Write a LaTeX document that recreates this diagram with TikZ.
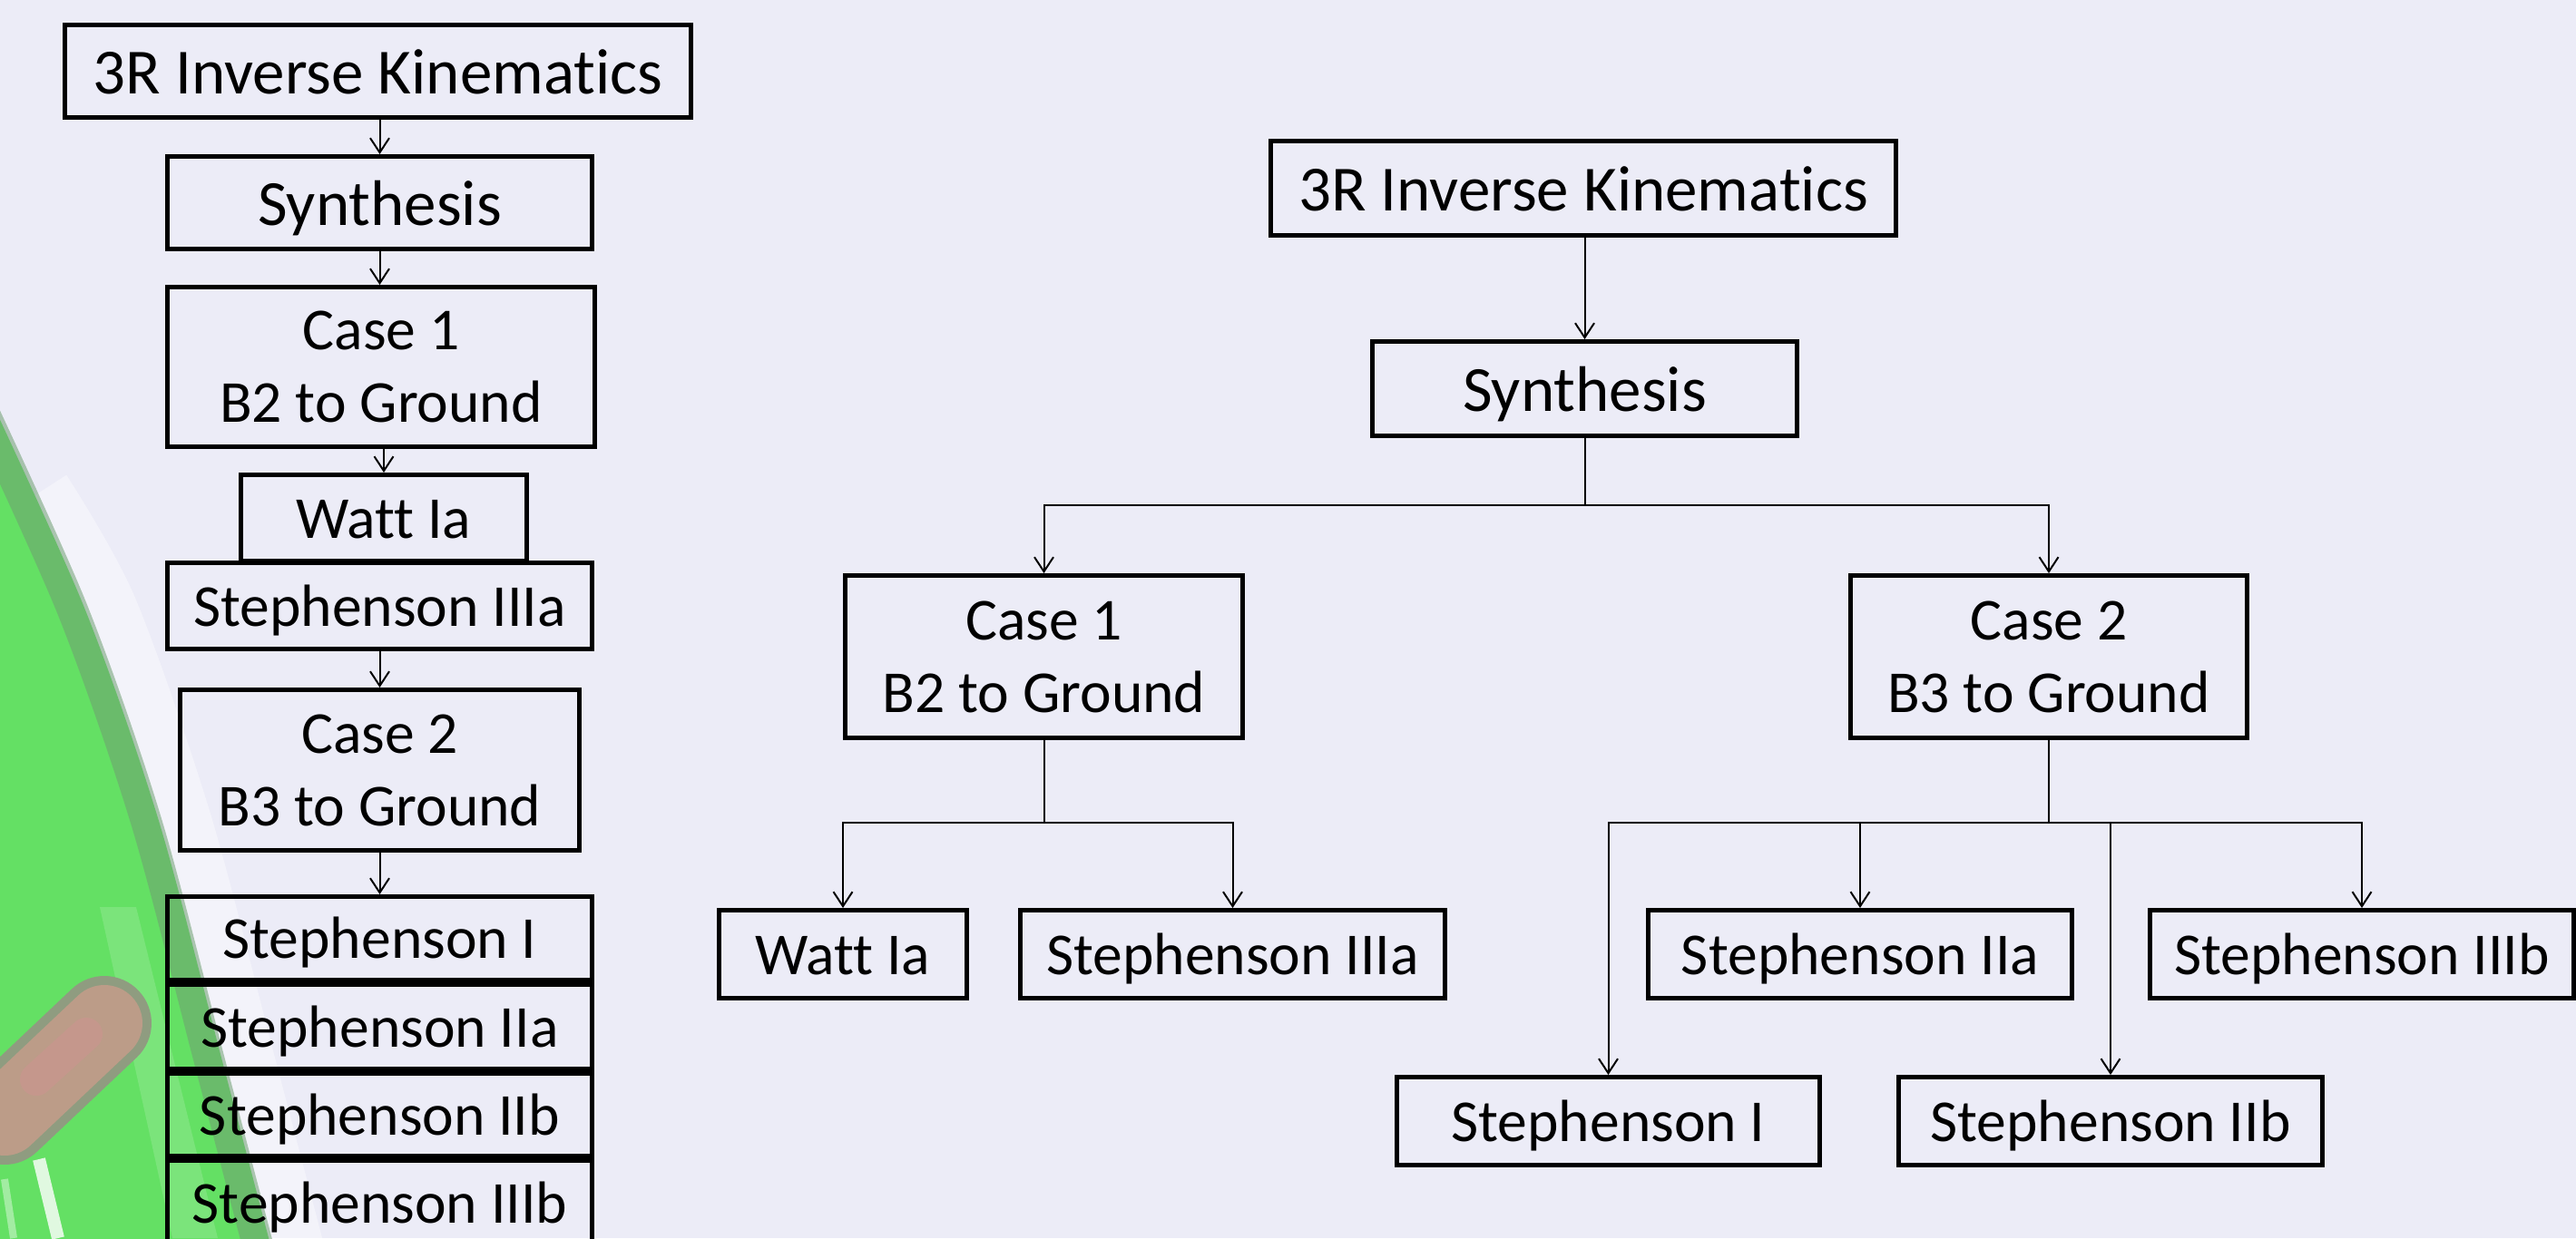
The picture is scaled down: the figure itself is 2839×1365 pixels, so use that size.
\documentclass[tikz,border=0pt]{standalone}
\usepackage{fontspec}
\setmainfont{Carlito}[Ligatures={NoCommon}]
\usetikzlibrary{arrows.meta}
\definecolor{bgc}{HTML}{ECECF7}
\definecolor{grn}{HTML}{64E064}
\definecolor{grnedge}{HTML}{6F9E72}
\definecolor{blobout}{HTML}{8F9C80}
\definecolor{blobin}{HTML}{BC9C88}
\definecolor{blobpink}{HTML}{CC9590}
\newcommand\bigboxfont{\fontsize{71}{87}\selectfont}
\newcommand\smallboxfont{\fontsize{65.6}{80}\selectfont}
\begin{document}
\begin{tikzpicture}[x=1pt,y=-1pt,
  bx/.style={draw=black, line width=5pt, inner sep=0pt, align=center},
  big/.style={bx, font=\bigboxfont, text height=66pt, text depth=17pt},
  one/.style={bx, font=\smallboxfont, text height=61pt, text depth=17pt},
  two/.style={bx, font=\smallboxfont},
  arr/.style={draw=black, line width=2pt, -{Straight Barb[length=16pt,width=21pt]}},
  ln/.style={draw=black, line width=2pt}]
\useasboundingbox (0,0) rectangle (2839,1365);
\clip (0,0) rectangle (2839,1365);
% background
\fill[bgc] (0,0) rectangle (2839,1365);
\draw[white, line width=60pt, opacity=0.4, xshift=28pt] plot[smooth] coordinates {(20,540) (93,670) (175,905) (245,1170) (300,1380)};
\fill[grn] plot[smooth] coordinates {(-20,420) (93,670) (175,905) (245,1170) (300,1380)} -- (-20,1380) -- cycle;
\draw[grnedge, line width=34pt, opacity=0.55, xshift=-14pt] plot[smooth] coordinates {(-20,420) (93,670) (175,905) (245,1170) (300,1380)};
\fill[white, opacity=0.15] (150,1000) -- (240,1365) -- (190,1365) -- (110,1000) -- cycle;
\draw[blobout, line width=104pt, line cap=round] (5,1232) -- (115,1128);
\draw[blobin, line width=84pt, line cap=round] (5,1232) -- (115,1128);
\draw[blobpink, line width=36pt, line cap=round, opacity=0.6] (40,1190) -- (95,1140);
\draw[white, line width=14pt, opacity=0.8] (43,1278) -- (64,1365);
\draw[white, line width=8pt, opacity=0.4] (5,1300) -- (15,1365);
% left column
\node[big, minimum width=690, minimum height=102] (L1) at (416.5,78.5) {3R Inverse Kinematics};
\node[big, minimum width=468, minimum height=102] (L2) at (418.5,223.5) {Synthesis};
\node[two, minimum width=471, minimum height=176] (L3) at (420,404.5) {Case 1\\B2 to Ground};
\node[one, minimum width=315, minimum height=95] (L4) at (423,571) {Watt Ia};
\node[one, minimum width=468, minimum height=95] (L5) at (418.5,668) {Stephenson IIIa};
\node[two, minimum width=440, minimum height=177] (L6) at (418.5,849) {Case 2\\B3 to Ground};
\node[one, minimum width=468, minimum height=92] (L7) at (418.5,1034.5) {Stephenson I};
\node[one, minimum width=468, minimum height=93] (L8) at (418.5,1132) {Stephenson IIa};
\node[one, minimum width=468, minimum height=91] (L9) at (418.5,1229) {Stephenson IIb};
\node[one, minimum width=468, minimum height=93] (L10) at (418.5,1326) {Stephenson IIIb};
\draw[arr] (L1.south -| L2.north) -- (L2.north);
\draw[arr] (L2.south) -- (L3.north -| L2.south);
\draw[arr] (L3.south -| L4.north) -- (L4.north);
\draw[arr] (L5.south) -- (L6.north);
\draw[arr] (L6.south) -- (L7.north);
% right tree
\node[big, minimum width=689, minimum height=104] (R1) at (1745,207.5) {3R Inverse Kinematics};
\node[big, minimum width=468, minimum height=104] (R2) at (1746.5,428.5) {Synthesis};
\node[two, minimum width=438, minimum height=179] (R3) at (1150.5,724) {Case 1\\B2 to Ground};
\node[two, minimum width=437, minimum height=179] (R4) at (2258,724) {Case 2\\B3 to Ground};
\node[one, minimum width=273, minimum height=97] (R5) at (929,1052) {Watt Ia};
\node[one, minimum width=468, minimum height=97] (R6) at (1358.5,1052) {Stephenson IIIa};
\node[one, minimum width=467, minimum height=97] (R7) at (2050,1052) {Stephenson IIa};
\node[one, minimum width=467, minimum height=97] (R8) at (2603,1052) {Stephenson IIIb};
\node[one, minimum width=466, minimum height=97] (R9) at (1772.5,1236) {Stephenson I};
\node[one, minimum width=467, minimum height=97] (R10) at (2326,1236) {Stephenson IIb};
\draw[arr] (R1.south -| R2.north) -- (R2.north);
\coordinate (b1) at (1746.5,557);
\coordinate (b2) at (1150.5,907);
\coordinate (b3) at (2258,907);
\draw[ln] (R2.south) -- (b1);
\draw[arr] (b1) -| (R3.north);
\draw[arr] (b1) -| (R4.north);
\draw[ln] (R3.south) -- (b2);
\draw[arr] (b2) -| (R5.north);
\draw[arr] (b2) -| (R6.north);
\draw[ln] (R4.south) -- (b3);
\draw[arr] (b3) -| (R9.north);
\draw[arr] (b3) -| (R7.north);
\draw[arr] (b3) -| (R10.north);
\draw[arr] (b3) -| (R8.north);
\end{tikzpicture}
\end{document}
